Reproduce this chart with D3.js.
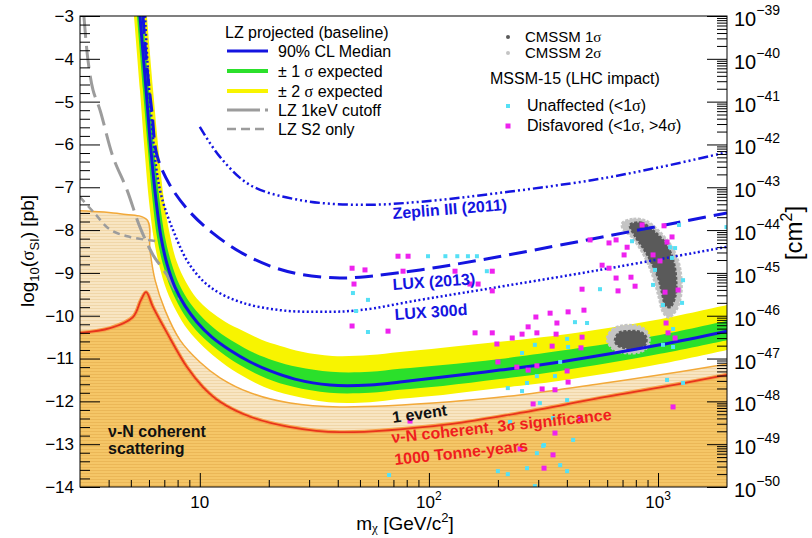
<!DOCTYPE html>
<html><head><meta charset="utf-8">
<script src="https://cdn.jsdelivr.net/npm/d3@7"></script>
<style>
body{margin:0;background:#fff;}
svg{display:block;font-family:"Liberation Sans",Arial,Helvetica,sans-serif;}
</style></head><body>
<svg id="c" width="812" height="538"></svg>
<script>
// ---------------- DATA (mass [GeV], log10 sigma [pb]) ----------------
const lzMedian=[[5.48,-3.0],[5.83,-4.73],[6.12,-6.13],[6.44,-7.30],[6.77,-8.16],[7.19,-8.79],[7.79,-9.33],[8.62,-9.77],[9.73,-10.15],[11.3,-10.50],[13.5,-10.80],[16.6,-11.08],[20.3,-11.29],[26.0,-11.48],[37.0,-11.62],[55.3,-11.62],[74.8,-11.55],[115,-11.43],[204,-11.27],[374,-11.08],[1020,-10.68],[2000,-10.36]];
const lzGreenUp=[[5.65,-3.0],[6.00,-4.72],[6.31,-6.12],[6.67,-7.29],[7.04,-8.15],[7.51,-8.76],[8.16,-9.28],[9.07,-9.70],[10.26,-10.04],[11.9,-10.35],[14.3,-10.63],[17.3,-10.87],[21.1,-11.05],[26.8,-11.20],[37.4,-11.31],[55.3,-11.31],[74.8,-11.24],[115,-11.15],[204,-11.01],[374,-10.82],[1020,-10.45],[2000,-10.12]];
const lzGreenLo=[[5.32,-3.0],[5.65,-4.73],[5.94,-6.14],[6.22,-7.31],[6.51,-8.18],[6.92,-8.82],[7.48,-9.37],[8.26,-9.84],[9.29,-10.24],[10.84,-10.61],[13.0,-10.94],[16.0,-11.24],[19.7,-11.47],[25.6,-11.66],[36.8,-11.80],[55.3,-11.80],[74.8,-11.73],[115,-11.64],[204,-11.48],[374,-11.29],[1020,-10.89],[2000,-10.57]];
const lzYellowUp=[[5.88,-3.0],[6.25,-4.71],[6.60,-6.11],[6.97,-7.28],[7.41,-8.12],[7.92,-8.73],[8.71,-9.22],[9.70,-9.60],[11.06,-9.89],[12.9,-10.14],[15.4,-10.35],[18.6,-10.56],[22.3,-10.70],[27.9,-10.84],[37.9,-10.94],[55.3,-10.92],[74.8,-10.85],[115,-10.75],[204,-10.61],[374,-10.45],[1020,-10.08],[2000,-9.75]];
const lzYellowLo=[[5.16,-3.0],[5.48,-4.74],[5.74,-6.14],[6.00,-7.32],[6.29,-8.19],[6.66,-8.84],[7.17,-9.41],[7.91,-9.90],[8.87,-10.33],[10.39,-10.73],[12.5,-11.09],[15.4,-11.41],[19.0,-11.66],[25.0,-11.86],[36.5,-12.02],[55.3,-12.02],[74.8,-11.94],[115,-11.85],[204,-11.69],[374,-11.52],[1020,-11.13],[2000,-10.80]];
const lz1keV=[[3.12,-3.0],[3.25,-4.03],[3.42,-4.73],[3.67,-5.20],[4.18,-6.29],[4.81,-7.06],[5.48,-7.93],[6.25,-8.58],[7.19,-9.05],[8.20,-9.63]];
const lzS2=[[3.0,-7.23],[3.49,-7.62],[4.06,-7.99],[4.96,-8.16],[6.50,-8.26]];
const lux2013=[[5.65,-3.0],[5.88,-4.19],[6.19,-5.27],[6.50,-6.25],[7.41,-6.95],[9.06,-7.58],[11.4,-8.07],[15.0,-8.51],[20.3,-8.84],[27.4,-9.03],[40.9,-9.12],[50.0,-9.10],[91.5,-8.93],[167,-8.70],[374,-8.35],[2000,-7.60]];
const lux300d=[[5.77,-3.0],[6.06,-4.96],[6.70,-7.06],[7.79,-8.11],[9.06,-8.82],[11.1,-9.33],[15.0,-9.68],[22.4,-9.87],[33.5,-9.91],[50.0,-9.87],[91.5,-9.63],[167,-9.40],[558,-8.93],[2000,-8.39]];
const zeplin3=[[10.0,-5.59],[12.25,-6.29],[16.6,-6.95],[27.4,-7.30],[50.0,-7.41],[91.5,-7.34],[204,-7.13],[520,-6.83],[1020,-6.53],[2000,-6.18]];
const nuOneEvent=[[3.0,-7.55],[4.49,-7.62],[5.88,-7.76],[6.06,-8.47],[6.38,-9.17],[7.05,-9.87],[8.20,-10.57],[10.0,-11.08],[12.25,-11.45],[16.6,-11.80],[24.8,-12.04],[40.9,-12.13],[124,-12.01],[250,-11.85],[558,-11.59],[1248,-11.31],[2000,-11.13]];
const nu3sigma=[[3.0,-10.40],[4.06,-10.29],[5.11,-10.03],[5.54,-9.63],[5.83,-9.45],[6.25,-9.80],[7.19,-10.40],[8.79,-11.20],[10.3,-11.66],[12.25,-12.01],[16.6,-12.36],[24.8,-12.60],[40.9,-12.72],[124,-12.53],[250,-12.27],[558,-11.92],[1248,-11.59],[2000,-11.38]];
const cmssm2sigmaA=[[700,-7.83],[780,-7.74],[885,-7.78],[1020,-8.05],[1140,-8.36],[1230,-8.75],[1265,-9.17],[1255,-9.58],[1190,-9.90],[1110,-10.04],[1050,-9.91],[1010,-9.59],[970,-9.24],[915,-8.85],[845,-8.48],[765,-8.15],[700,-7.96]];
const cmssm1sigmaA=[[755,-7.88],[845,-7.83],[975,-8.06],[1095,-8.36],[1170,-8.75],[1200,-9.17],[1190,-9.54],[1129,-9.80],[1080,-9.76],[1040,-9.45],[1000,-9.10],[935,-8.75],[862,-8.42],[790,-8.12]];
const cmssm2sigmaB=[[599,-10.54],[630,-10.33],[683,-10.24],[770,-10.22],[860,-10.29],[913,-10.47],[905,-10.71],[835,-10.85],[725,-10.87],[636,-10.78]];
const cmssm1sigmaB=[[649,-10.57],[676,-10.40],[740,-10.36],[835,-10.38],[887,-10.50],[878,-10.68],[802,-10.78],[711,-10.75],[662,-10.68]];
const mssmDisfavored=[[46.2,-8.89],[47.1,-9.26],[46.2,-10.24],[52.6,-8.93],[73.3,-8.61],[81.1,-8.61],[77.1,-8.96],[130,-8.96],[151,-9.26],[164,-9.26],[189,-8.96],[189,-9.42],[66.3,-10.36],[159,-10.40],[189,-10.40],[231,-10.52],[198,-10.66],[200,-11.08],[255,-10.43],[271,-10.26],[296,-10.40],[293,-10.03],[338,-9.94],[362,-10.17],[359,-10.43],[345,-10.71],[405,-9.91],[475,-9.87],[466,-10.50],[461,-10.75],[466,-9.38],[505,-8.23],[570,-8.82],[611,-8.89],[611,-8.30],[656,-8.23],[733,-8.40],[711,-8.58],[656,-9.12],[762,-9.10],[669,-9.42],[794,-9.31],[852,-7.88],[1062,-7.90],[1151,-8.16],[1095,-8.28],[951,-8.58],[1020,-8.72],[1223,-9.40],[1073,-9.45],[1084,-10.17],[1106,-10.40],[1187,-10.52],[242,-11.20],[271,-11.27],[296,-11.17],[401,-11.29],[405,-11.55],[312,-11.71],[355,-11.73],[285,-12.06],[1163,-12.13],[82.7,-12.46],[457,-12.41],[355,-12.74],[250,-13.11],[348,-13.25],[318,-13.56]];
const mssmUnaffected=[[46.6,-9.47],[48.1,-9.89],[99.1,-8.61],[118,-8.61],[133,-8.61],[148,-8.61],[162,-8.61],[179,-8.96],[54.2,-9.63],[54.2,-10.38],[558,-9.38],[434,-10.15],[490,-10.17],[401,-10.54],[405,-10.73],[290,-10.68],[255,-10.87],[374,-11.08],[770,-8.26],[1235,-7.88],[1129,-8.40],[1187,-8.42],[1151,-8.65],[970,-8.93],[1286,-9.17],[951,-9.28],[1051,-9.75],[1273,-9.70],[1163,-10.31],[1051,-10.68],[1163,-10.73],[1990,-7.93],[296,-11.41],[355,-11.41],[221,-11.69],[268,-11.57],[255,-11.76],[401,-11.97],[305,-12.04],[1095,-11.50],[1286,-11.57],[226,-12.48],[348,-12.39],[426,-12.90],[315,-13.04],[296,-13.21],[374,-13.49],[268,-13.56],[200,-13.63],[221,-13.70],[401,-13.63],[67,-13.72],[290,-13.98],[318,-13.02]];
// axes
const yTickValues=[-3,-4,-5,-6,-7,-8,-9,-10,-11,-12,-13,-14];
const cmExponents=[-39,-40,-41,-42,-43,-44,-45,-46,-47,-48,-49,-50];
const xTickValues=[10,100,1000];
const xTickBase=["10","10","10"];
const xTickSup=["","2","3"];
const legendLZ=["90% CL Median","± 1 σ expected","± 2 σ expected","LZ 1keV cutoff","LZ S2 only"];
const legendSUSY=["CMSSM 1σ","CMSSM 2σ","MSSM-15 (LHC impact)","Unaffected (<1σ)","Disfavored (<1σ, >4σ)"];

// ---------------- LAYOUT ----------------
const X0=80,X1=727,Y0=16,Y1=487;
const x=d3.scaleLog().domain([3,2000]).range([X0,X1]);
const y=d3.scaleLinear().domain([-14,-3]).range([Y1,Y0]);
const yR=d3.scaleLog().domain([1e-50,1e-39]).range([Y1,Y0]);
const svg=d3.select("#c");
const defs=svg.append("defs");
defs.append("clipPath").attr("id","clip").append("rect").attr("x",X0).attr("y",Y0).attr("width",X1-X0).attr("height",Y1-Y0);
function hatch(id,bg,fg){
  const p=defs.append("pattern").attr("id",id).attr("patternUnits","userSpaceOnUse").attr("width",6).attr("height",3);
  p.append("rect").attr("width",6).attr("height",3).attr("fill",bg);
  p.append("rect").attr("y",2).attr("width",6).attr("height",1).attr("fill",fg);
}
hatch("hBeige","#f8e5c2","#f0d6a8");
hatch("hOrange","#f5c667","#ebb757");

const serif="'Liberation Serif','DejaVu Serif',serif";
function rich(t,str){
  str.split(/(σ)/).forEach(s=>{ if(!s) return; const ts=t.append("tspan").text(s); if(s==="σ") ts.attr("font-family",serif); });
}

const g=svg.append("g").attr("clip-path","url(#clip)");
const line=d3.line().x(d=>x(d[0])).y(d=>y(d[1])).curve(d3.curveCatmullRom.alpha(0.5));
const lineClosed=d3.line().x(d=>x(d[0])).y(d=>y(d[1])).curve(d3.curveCatmullRomClosed.alpha(0.5));
function band(up,lo){return line(up)+"L"+line(lo.slice().reverse()).slice(1)+"Z";}

// neutrino regions
g.append("path").attr("d",band(nuOneEvent,nu3sigma)).attr("fill","url(#hBeige)");
g.append("path").attr("d",band(nu3sigma,[[3,-14.5],[2000,-14.5]])).attr("fill","url(#hOrange)");
g.append("path").attr("d",line(nuOneEvent)).attr("fill","none").attr("stroke","#f2a93a").attr("stroke-width",1.5);
g.append("path").attr("d",line(nu3sigma)).attr("fill","none").attr("stroke","#f7a04a").attr("stroke-width",4);
g.append("path").attr("d",line(nu3sigma)).attr("fill","none").attr("stroke","#e8341c").attr("stroke-width",1.8);

// LZ bands
g.append("path").attr("d",band(lzYellowUp,lzYellowLo)).attr("fill","#f8f400");
g.append("path").attr("d",band(lzGreenUp,lzGreenLo)).attr("fill","#2be02b");

// CMSSM blobs
[[cmssm2sigmaA,"#c4c4c4"],[cmssm2sigmaB,"#c4c4c4"],[cmssm1sigmaA,"#5a5a5a"],[cmssm1sigmaB,"#5a5a5a"]].forEach(([d,c])=>{
  g.append("path").attr("d",lineClosed(d)).attr("fill",c).attr("stroke",c).attr("stroke-width",2.5).attr("stroke-dasharray","3,1.5").attr("stroke-linejoin","round");
});

// lines
const blue="#1414e0";
g.append("path").attr("d",line(lz1keV)).attr("fill","none").attr("stroke","#9c9c9c").attr("stroke-width",3).attr("stroke-dasharray","22,8");
g.append("path").attr("d",line(lzS2)).attr("fill","none").attr("stroke","#9c9c9c").attr("stroke-width",2.5).attr("stroke-dasharray","7,5");
g.append("path").attr("d",line(lzMedian)).attr("fill","none").attr("stroke",blue).attr("stroke-width",3);
g.append("path").attr("d",line(lux2013)).attr("fill","none").attr("stroke",blue).attr("stroke-width",3).attr("stroke-dasharray","18,8");
g.append("path").attr("d",line(lux300d)).attr("fill","none").attr("stroke",blue).attr("stroke-width",2.5).attr("stroke-dasharray","2,2.5");
g.append("path").attr("d",line(zeplin3)).attr("fill","none").attr("stroke",blue).attr("stroke-width",2.5).attr("stroke-dasharray","10,3,2,3,2,3,2,3");

// MSSM points
g.selectAll("rect.cy").data(mssmUnaffected).enter().append("rect").attr("class","cy")
  .attr("x",d=>x(d[0])-2).attr("y",d=>y(d[1])-2).attr("width",4).attr("height",4).attr("fill","#55e0f5");
g.selectAll("rect.mg").data(mssmDisfavored).enter().append("rect").attr("class","mg")
  .attr("x",d=>x(d[0])-2.5).attr("y",d=>y(d[1])-2.5).attr("width",5).attr("height",5).attr("fill","#ee22ee");

// annotations
function label(txt,px,py,rot,color,size){
  const t=svg.append("text").attr("transform",`translate(${px},${py}) rotate(${rot})`).attr("font-size",size).attr("font-weight","bold").attr("fill",color);
  rich(t,txt); return t;
}
label("Zeplin III (2011)",393,219,-4.5,blue,16);
label("LUX (2013)",393,290,-4,blue,16);
label("LUX 300d",395,320,-4,blue,16);
label("1 event",393,423,-8,"#111",16);
label("ν-N coherent, 3σ significance",392,443,-6,"#f01e1e",16);
label("1000 Tonne-years",395,465,-6,"#f01e1e",16);
label("ν-N coherent",108,437,0,"#111",16);
label("scattering",108,454,0,"#111",16);

// ---------------- AXES ----------------
svg.append("rect").attr("x",X0).attr("y",Y0).attr("width",X1-X0).attr("height",Y1-Y0).attr("fill","none").attr("stroke","#000").attr("stroke-width",1);
function styleAxis(sel){sel.select(".domain").remove(); sel.selectAll("line").attr("stroke","#000"); return sel;}
// left
const yMinor=d3.range(-14,-3.01,0.2).filter(v=>Math.abs(v-Math.round(v))>0.01);
styleAxis(svg.append("g").attr("transform",`translate(${X0},0)`).call(d3.axisLeft(y).tickValues(yMinor).tickSize(-10).tickFormat("")));
const ga=styleAxis(svg.append("g").attr("transform",`translate(${X0},0)`).call(d3.axisLeft(y).tickValues(yTickValues).tickSize(-20).tickPadding(6).tickFormat(d3.format("d"))));
ga.attr("font-size",17).attr("font-family","'Liberation Sans',Arial,sans-serif");
ga.selectAll("text").attr("fill","#000");
// bottom
const xMinor=[4,5,6,7,8,9,20,30,40,50,60,70,80,90,200,300,400,500,600,700,800,900];
styleAxis(svg.append("g").attr("transform",`translate(0,${Y1})`).call(d3.axisBottom(x).tickValues(xMinor).tickSize(-7).tickFormat("")));
styleAxis(svg.append("g").attr("transform",`translate(0,${Y1})`).call(d3.axisBottom(x).tickValues(xTickValues).tickSize(-14).tickFormat("")));
xTickValues.forEach((v,i)=>{
  const t=svg.append("text").attr("x",x(v)).attr("y",508).attr("text-anchor","middle").attr("font-size",17);
  t.append("tspan").text(xTickBase[i]);
  if(xTickSup[i]) t.append("tspan").attr("font-size",12).attr("dy",-8).text(xTickSup[i]);
});
// right
const rMajor=cmExponents.map(e=>Math.pow(10,e));
const rMinor=[];
cmExponents.slice(1).forEach(e=>{for(let k=2;k<=9;k++) rMinor.push(k*Math.pow(10,e));});
styleAxis(svg.append("g").attr("transform",`translate(${X1},0)`).call(d3.axisRight(yR).tickValues(rMinor).tickSize(-10).tickFormat("")));
styleAxis(svg.append("g").attr("transform",`translate(${X1},0)`).call(d3.axisRight(yR).tickValues(rMajor).tickSize(-20).tickFormat("")));
cmExponents.forEach(e=>{
  const yy=yR(Math.pow(10,e));
  const t=svg.append("text").attr("x",734).attr("y",yy+10).attr("font-size",20);
  t.append("tspan").text("10");
  t.append("tspan").attr("font-size",14).attr("dy",-11).text("−"+(-e));
});
// titles
const yt=svg.append("text").attr("transform","translate(34,251) rotate(-90)").attr("text-anchor","middle").attr("font-size",19);
yt.append("tspan").text("log");
yt.append("tspan").attr("font-size",13).attr("dy",5).text("10");
yt.append("tspan").attr("dy",-5).text("(");
yt.append("tspan").attr("font-family",serif).text("σ");
yt.append("tspan").attr("font-size",13).attr("dy",5).text("SI");
yt.append("tspan").attr("dy",-5).text(") [pb]");
const xt=svg.append("text").attr("x",405).attr("y",530).attr("text-anchor","middle").attr("font-size",19);
xt.append("tspan").text("m");
xt.append("tspan").attr("font-size",13).attr("dy",2).attr("font-family",serif).text("χ");
xt.append("tspan").attr("dy",-2).text(" [GeV/c");
xt.append("tspan").attr("font-size",13).attr("dy",-8).text("2");
xt.append("tspan").attr("dy",8).text("]");
const rt=svg.append("text").attr("transform","translate(802,233) rotate(-90)").attr("text-anchor","middle").attr("font-size",24);
rt.append("tspan").text("[cm");
rt.append("tspan").attr("font-size",16).attr("dy",-10).text("2");
rt.append("tspan").attr("dy",10).text("]");

// ---------------- LEGENDS ----------------
svg.append("text").attr("x",225).attr("y",38).attr("font-size",16).text("LZ projected (baseline)");
const lzStyles=[{c:blue,w:3,d:null},{c:"#2be02b",w:4,d:null},{c:"#f8f400",w:4,d:null},{c:"#9c9c9c",w:3,d:"33,5,4,5"},{c:"#9c9c9c",w:2.5,d:"9,5"}];
const lzRowY=[51,71,91,110,129];
legendLZ.forEach((s,i)=>{
  const st=lzStyles[i];
  const l=svg.append("line").attr("x1",227).attr("x2",268).attr("y1",lzRowY[i]).attr("y2",lzRowY[i]).attr("stroke",st.c).attr("stroke-width",st.w);
  if(st.d) l.attr("stroke-dasharray",st.d);
  rich(svg.append("text").attr("x",278).attr("y",lzRowY[i]+6).attr("font-size",16),s);
});
const suRowY=[37,53,79,106,126];
const suSize=[15,15,16,16,16];
svg.append("circle").attr("cx",508).attr("cy",suRowY[0]).attr("r",2).attr("fill","#5a5a5a");
svg.append("circle").attr("cx",508).attr("cy",suRowY[1]).attr("r",2).attr("fill","#c4c4c4");
svg.append("rect").attr("x",506).attr("y",suRowY[3]-2).attr("width",4).attr("height",4).attr("fill","#55e0f5");
svg.append("rect").attr("x",505.5).attr("y",suRowY[4]-2.5).attr("width",5).attr("height",5).attr("fill","#ee22ee");
const suX=[525,525,490,527,527];
legendSUSY.forEach((s,i)=>{ rich(svg.append("text").attr("x",suX[i]).attr("y",suRowY[i]+5).attr("font-size",suSize[i]),s); });
</script>
</body></html>
